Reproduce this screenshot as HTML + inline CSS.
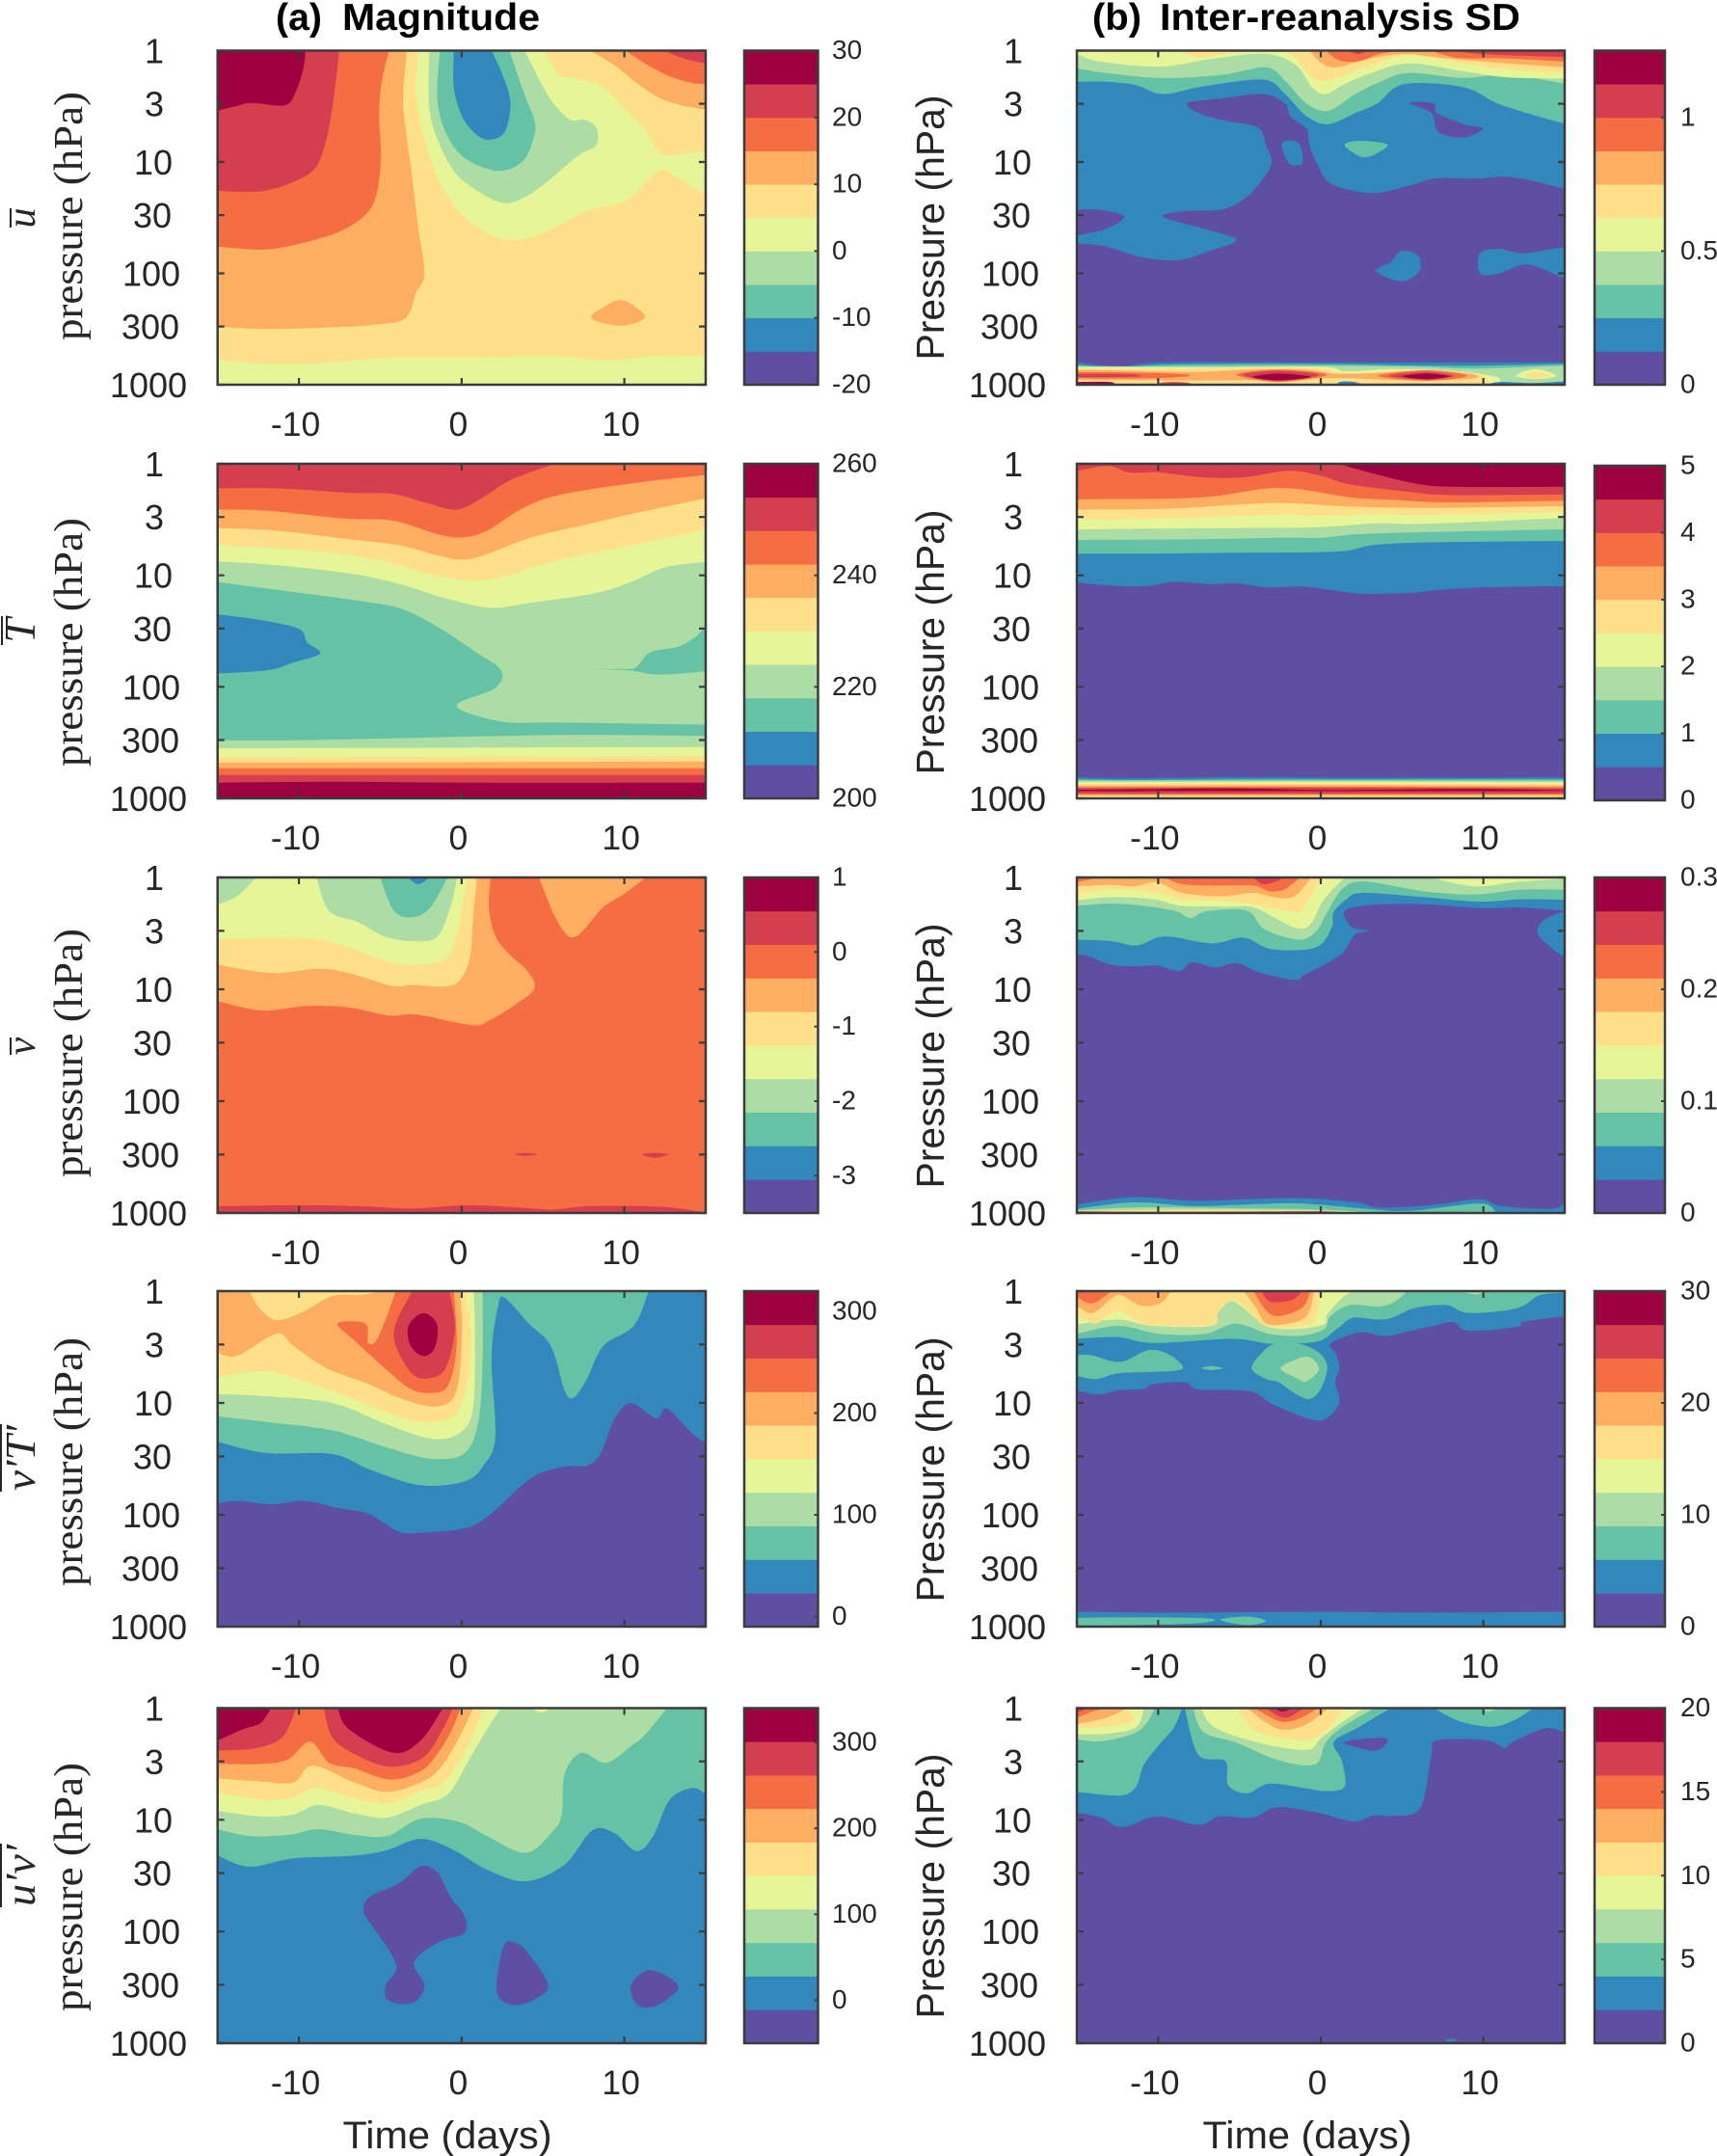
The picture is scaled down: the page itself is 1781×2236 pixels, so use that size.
<!DOCTYPE html>
<html lang="en">
<head>
<meta charset="utf-8">
<title>Zonal-mean composites: magnitude and inter-reanalysis SD</title>
<style>
html,body{margin:0;padding:0;background:#fff;}
svg{display:block;}
text{fill:#262626;font-family:"Liberation Sans",sans-serif;}
.serif{font-family:"Liberation Serif",serif;}
</style>
</head>
<body>
<svg id="figure" xmlns="http://www.w3.org/2000/svg" width="1781" height="2236" viewBox="0 0 1781 2236">
<rect x="0" y="0" width="1781" height="2236" fill="#ffffff"/>
<text x="286" y="31" font-size="39" font-weight="bold" textLength="48" lengthAdjust="spacingAndGlyphs" style="fill:#000">(a)</text>
<text x="355" y="31" font-size="39" font-weight="bold" textLength="205" lengthAdjust="spacingAndGlyphs" style="fill:#000">Magnitude</text>
<text x="1133" y="31" font-size="39" font-weight="bold" textLength="51" lengthAdjust="spacingAndGlyphs" style="fill:#000">(b)</text>
<text x="1203" y="31" font-size="39" font-weight="bold" textLength="374" lengthAdjust="spacingAndGlyphs" style="fill:#000">Inter-reanalysis SD</text>

<g transform="translate(36,226) rotate(-90)"><text class="serif" text-anchor="middle" font-size="42" font-style="italic">u</text><line x1="-10" x2="10" y1="-25" y2="-25" stroke="#262626" stroke-width="2"/></g>
<g transform="translate(36,654) rotate(-90)"><text class="serif" text-anchor="middle" font-size="46" font-style="italic">T</text><line x1="-15" x2="15" y1="-34" y2="-34" stroke="#262626" stroke-width="2"/></g>
<g transform="translate(36,1085) rotate(-90)"><text class="serif" text-anchor="middle" font-size="42" font-style="italic">v</text><line x1="-9" x2="9" y1="-25" y2="-25" stroke="#262626" stroke-width="2"/></g>
<g transform="translate(36,1512) rotate(-90)"><text class="serif" text-anchor="middle" font-size="44" font-style="italic" textLength="68" lengthAdjust="spacingAndGlyphs">v′T′</text><line x1="-35" x2="35" y1="-35" y2="-35" stroke="#262626" stroke-width="2"/></g>
<g transform="translate(36,1945) rotate(-90)"><text class="serif" text-anchor="middle" font-size="44" font-style="italic" textLength="64" lengthAdjust="spacingAndGlyphs">u′v′</text><line x1="-33" x2="33" y1="-35" y2="-35" stroke="#262626" stroke-width="2"/></g>

<text class="serif" transform="translate(85,224) rotate(-90)" text-anchor="middle" font-size="42" textLength="258" lengthAdjust="spacingAndGlyphs">pressure (hPa)</text>
<text class="serif" transform="translate(85,666) rotate(-90)" text-anchor="middle" font-size="42" textLength="258" lengthAdjust="spacingAndGlyphs">pressure (hPa)</text>
<text class="serif" transform="translate(85,1092) rotate(-90)" text-anchor="middle" font-size="42" textLength="258" lengthAdjust="spacingAndGlyphs">pressure (hPa)</text>
<text class="serif" transform="translate(85,1516) rotate(-90)" text-anchor="middle" font-size="42" textLength="258" lengthAdjust="spacingAndGlyphs">pressure (hPa)</text>
<text class="serif" transform="translate(85,1957) rotate(-90)" text-anchor="middle" font-size="42" textLength="258" lengthAdjust="spacingAndGlyphs">pressure (hPa)</text>

<text transform="translate(979,236) rotate(-90)" text-anchor="middle" font-size="41" textLength="275" lengthAdjust="spacingAndGlyphs">Pressure (hPa)</text>
<text transform="translate(979,666) rotate(-90)" text-anchor="middle" font-size="41" textLength="275" lengthAdjust="spacingAndGlyphs">Pressure (hPa)</text>
<text transform="translate(979,1095) rotate(-90)" text-anchor="middle" font-size="41" textLength="275" lengthAdjust="spacingAndGlyphs">Pressure (hPa)</text>
<text transform="translate(979,1524) rotate(-90)" text-anchor="middle" font-size="41" textLength="275" lengthAdjust="spacingAndGlyphs">Pressure (hPa)</text>
<text transform="translate(979,1956) rotate(-90)" text-anchor="middle" font-size="41" textLength="275" lengthAdjust="spacingAndGlyphs">Pressure (hPa)</text>

<text x="464" y="2228" text-anchor="middle" font-size="40" textLength="217" lengthAdjust="spacingAndGlyphs">Time (days)</text>
<text x="1356" y="2228" text-anchor="middle" font-size="40" textLength="217" lengthAdjust="spacingAndGlyphs">Time (days)</text>
</svg>

<script>
// Shared axis values
const timeTicks=[-10,0,10];
const timeRange=[-15,15];
const pressureTicks=[1,3,10,30,100,300,1000];
const logPressureRange=[0,3];
const bandColors=['#5e4fa2','#3288bd','#66c2a5','#abdda4','#e6f598','#fee08b','#fdae61','#f46d43','#d53e4f','#9e0142'];

// Colour-bar limits and ticks (data units)
const uBarLimits=[-20,30];
const uBarTicks=[30,20,10,0,-10,-20];
const tBarLimits=[200,260];
const tBarTicks=[260,240,220,200];
const vBarLimits=[-3.5,1];
const vBarTicks=[1,0,-1,-2,-3];
const heatLimits=[-10,320];
const heatTicks=[300,200,100,0];
const momentumLimits=[-50,340];
const momentumTicks=[300,200,100,0];
const uSdLimits=[0,1.25];
const uSdTicks=[1,0.5,0];
const tSdLimits=[0,5];
const tSdTicks=[5,4,3,2,1,0];
const vSdLimits=[0,0.3];
const vSdTicks=[0.3,0.2,0.1,0];
const heatSdLimits=[0,30];
const heatSdTicks=[30,20,10,0];
const momentumSdLimits=[0,20];
const momentumSdTicks=[20,15,10,5,0];

// Filled contour regions: [colour band, closure, [[day, log10 hPa], ...]]
const uBarContours=[
[4,'br-bl',[[-15,2.78],[-12.4,2.81],[-9,2.81],[-4.6,2.76],[-1.2,2.76],[5.6,2.75],[9,2.78],[12.4,2.74],[15,2.755]]],
[6,'tl',[[-15,2.48],[-12.04,2.5],[-7.96,2.485],[-5.24,2.46],[-3.44,2.4],[-2.79,2.17],[-2.28,2],[-2.69,1.57],[-3.03,1.14],[-3.44,.705],[-3.6,.42],[-3.37,0]]],
[7,'tl',[[-15,1.76],[-12.04,1.785],[-9.32,1.71],[-7.28,1.61],[-5.75,1.45],[-5.17,1.25],[-4.97,.94],[-5.07,.56],[-4.9,.27],[-4.46,0]]],
[8,'tl',[[-15,1.26],[-12.38,1.264],[-10.34,1.18],[-8.98,1.05],[-8.3,.79],[-7.86,.42],[-7.52,0]]],
[9,'tl',[[-15,.54],[-13.9,.5],[-12.9,.47],[-10.85,.49],[-10.17,.36],[-9.73,.16],[-9.59,0]]],
[4,'z',[[-2.69,0],[-2.79,.42],[-2.18,.85],[-1.33,1.19],[-.14,1.45],[1.56,1.64],[3.1,1.7],[4.63,1.66],[6.33,1.54],[7.69,1.44],[10.07,1.35],[11.26,1.19],[12.28,1.07],[13.3,1.14],[15,1.27],[15.7,1.1],[15,.92],[12.79,.94],[12.11,.91],[11.26,.71],[10.07,.53],[8.71,.33],[7,.245],[5.99,.22],[5.03,0]]],
[3,'z',[[-2,0],[-2,.5],[-1.5,.79],[-.48,1.08],[.88,1.25],[2.59,1.37],[3.95,1.31],[5.31,1.17],[7.18,.94],[8.27,.85],[8.27,.69],[7.52,.62],[6.67,.62],[5.65,.475],[4.8,.27],[3.88,0]]],
[2,'z',[[-1.33,0],[-1.5,.42],[-.99,.73],[.2,.965],[2.24,1.08],[3.78,.99],[4.46,.76],[4.46,.62],[3.78,.36],[2.93,0]]],
[1,'z',[[-.48,0],[-.48,.33],[.03,.59],[.88,.75],[1.73,.8],[2.65,.73],[3,.475],[2.59,.245],[1.84,0]]],
[6,'tr',[[7.86,0],[9.39,.13],[10.75,.29],[12.11,.42],[13.47,.49],[15,.53]]],
[7,'tr',[[10.07,0],[11.43,.13],[12.79,.23],[14.15,.29],[15,.3]]],
[8,'tr',[[12.45,0],[13.64,.07],[15,.115]]],
[6,'loop',[[7.96,2.4],[8.88,2.29],[9.73,2.24],[10.58,2.29],[11.26,2.4],[9.73,2.47]]]
];

const tBarContours=[
[3,'tr-tl',[[-15,1.06],[-12.4,1.11],[-9.3,1.17],[-6.26,1.23],[-3.7,1.3],[-1.33,1.475],[.88,1.69],[2.41,1.85],[2.07,2.01],[-.31,2.17],[2.41,2.31],[5.65,2.32],[10.75,2.33],[15,2.34]]],
[2,'loop',[[6.67,1.84],[10.07,1.84],[10.75,1.82],[11.6,1.69],[13.3,1.64],[14.32,1.56],[15.2,1.475],[15.85,1.835],[15,1.86],[12.1,1.89],[10.07,1.85]]],
[1,'z',[[-15,1.35],[-12.4,1.4],[-10,1.48],[-9.5,1.6],[-8.7,1.7],[-10.3,1.78],[-11.9,1.85],[-15,1.88]]],
[4,'tr-tl',[[-15,.875],[-11.36,.91],[-6.6,.99],[-3.54,1.09],[-1.16,1.2],[1.73,1.29],[4.29,1.245],[8.2,1.16],[10.41,1.06],[12.45,.93],[15,.88]]],
[5,'tr-tl',[[-15,.73],[-11.36,.76],[-7.28,.81],[-4.56,.885],[-1.84,.99],[.71,1.05],[2.93,1],[5.31,.885],[9.05,.77],[12.45,.67],[15,.59]]],
[6,'tr-tl',[[-15,.575],[-11.36,.6],[-7.28,.67],[-3.88,.73],[-1.5,.82],[.03,.86],[1.56,.81],[4.29,.66],[7.35,.555],[10.75,.44],[15,.31]]],
[7,'tr-tl',[[-15,.41],[-12,.42],[-7.28,.49],[-4.22,.51],[-1.5,.63],[.03,.66],[1.56,.6],[3.61,.41],[5.99,.28],[10.75,.17],[15,.1]]],
[8,'tl',[[-15,.22],[-11.36,.22],[-6.94,.26],[-4.22,.27],[-2.18,.35],[-.31,.41],[1.22,.31],[2.93,.15],[5.31,.02],[5.5,0]]],
[3,'br-bl',[[-15,2.48],[-11,2.48],[-3.7,2.46],[.88,2.445],[7.35,2.43],[15,2.44]]],
[4,'br-bl',[[-15,2.55],[15,2.54]]],
[5,'br-bl',[[-15,2.63],[15,2.62]]],
[6,'br-bl',[[-15,2.68],[15,2.67]]],
[7,'br-bl',[[-15,2.73],[15,2.73]]],
[8,'br-bl',[[-15,2.79],[15,2.79]]],
[9,'br-bl',[[-15,2.86],[-8,2.85],[.5,2.86],[15,2.86]]]
];

const vBarContours=[
[6,'tl',[[-15,1.105],[-12.3,1.19],[-9.57,1.15],[-7.02,1.16],[-4.48,1.235],[-2.78,1.225],[.62,1.32],[1.68,1.28],[3.37,1.13],[4.48,.99],[4,.83],[2.95,.69],[2.1,.53],[1.68,.28],[1.78,0]]],
[6,'z',[[4.75,0],[5.7,.34],[6.45,.51],[6.98,.53],[7.6,.455],[8.67,.27],[9.95,.15],[11.33,0]]],
[5,'tl',[[-15,.78],[-11.69,.854],[-8.72,.816],[-6.81,.86],[-4.26,.97],[-2.99,.96],[-1.08,.975],[-.13,.92],[.51,.715],[.72,.34],[.95,0]]],
[4,'tl',[[-15,.55],[-11.9,.54],[-8.93,.55],[-6.6,.64],[-4.05,.77],[-1.72,.765],[-.76,.686],[-.13,.4],[.36,0]]],
[3,'tl',[[-15,.245],[-13.8,.167],[-12.64,0]]],
[3,'z',[[-8.93,0],[-8.14,.3],[-6.38,.4],[-4.69,.53],[-2.99,.57],[-1.5,.53],[-.66,.25],[-.28,0]]],
[2,'z',[[-5,0],[-4.16,.3],[-2.99,.355],[-1.93,.27],[-.87,0]]],
[1,'z',[[-3.31,0],[-2.67,.06],[-1.97,0]]],
[8,'loop',[[3.27,2.475],[3.9,2.465],[4.64,2.475],[3.9,2.49]]],
[8,'loop',[[11.11,2.475],[11.86,2.463],[12.7,2.475],[11.86,2.506]]],
[8,'bl',[[-15,2.94],[-10,2.93],[-6,2.94],[-3,2.96],[.6,2.93],[4.86,2.965],[5.8,2.97],[7.8,2.94],[11.6,2.94],[13.66,2.965],[15,3]]]
];

const heatContours=[
[1,'tr-tl',[[-15,1.9],[-13.74,1.875],[-11.7,1.906],[-9.66,1.875],[-7.62,1.94],[-5.75,1.99],[-3.88,2.15],[-2.52,2.16],[.2,2.12],[1.73,2],[4.29,1.67],[6.33,1.57],[7.69,1.56],[8.54,1.45],[9.39,1.145],[10.41,1],[11.94,1.135],[12.62,1.05],[14.15,1.27],[15,1.357]]],
[2,'tl',[[-15,1.346],[-12.04,1.447],[-7.96,1.457],[-5.58,1.6],[-2.52,1.735],[.2,1.7],[1.39,1.55],[2.07,1.3],[1.84,.59],[2.24,.136],[2.65,.06],[4.12,.29],[5.48,.49],[6.33,.89],[6.9,.95],[7.69,.79],[8.71,.49],[10.58,.31],[11.5,0]]],
[3,'tl',[[-15,1.12],[-12.04,1.17],[-7.96,1.245],[-4.56,1.4],[-1.84,1.5],[.2,1.447],[1.05,1.145],[1.29,.59],[1.29,0]]],
[4,'tl',[[-15,.92],[-12.04,.94],[-7.96,1],[-4.56,1.195],[-1.84,1.32],[-.14,1.27],[.71,1.04],[.82,.34],[.75,0]]],
[5,'tl',[[-15,.77],[-12.04,.716],[-8.98,.84],[-6.6,.97],[-3.88,1.12],[-1.84,1.17],[-.31,1.09],[.37,.79],[.54,.34],[.2,0]]],
[6,'tl',[[-15,.555],[-13.74,.575],[-11.36,.38],[-10.34,.49],[-8.3,.69],[-5.92,.82],[-3.54,.97],[-1.5,1.03],[-.31,.89],[.03,.34],[-.14,0]]],
[5,'z',[[-13.06,0],[-12.38,.16],[-11.36,.26],[-9.83,.19],[-7.96,.045],[-6.26,.035],[-4.9,0]]],
[7,'z',[[-4.05,0],[-4.56,.21],[-5.24,.44],[-5.75,.46],[-5.92,.29],[-7.62,.29],[-6.6,.44],[-4.9,.666],[-3.2,.87],[-1.84,.91],[-.82,.84],[-.31,.49],[-.48,0]]],
[8,'z',[[-3.03,0],[-4.05,.29],[-4.05,.49],[-3.03,.74],[-2,.78],[-.99,.69],[-.41,.34],[-.75,0]]],
[9,'loop',[[-2.35,.197],[-1.5,.3],[-1.67,.51],[-2.35,.58],[-3.13,.49],[-3.27,.31]]]
];

const momentumContours=[
[0,'loop',[[-6.02,1.825],[-5.65,1.69],[-3.88,1.57],[-2.52,1.417],[-1.5,1.47],[-.65,1.7],[.14,1.85],[.2,2.01],[-1.16,2.08],[-2.35,2.18],[-2.93,2.3],[-2.28,2.48],[-2.69,2.61],[-3.54,2.65],[-4.56,2.61],[-4.66,2.48],[-4.05,2.355],[-4.22,2.23],[-5.24,2]]],
[0,'loop',[[2.59,2.13],[3.27,2.1],[4.12,2.2],[5.31,2.48],[4.46,2.61],[3.27,2.66],[2.41,2.61],[2.14,2.47]]],
[0,'loop',[[10.41,2.48],[11.6,2.345],[13.3,2.48],[12.62,2.61],[11.6,2.68],[10.75,2.65]]],
[2,'tr-tl',[[-15,1.32],[-13.06,1.42],[-10.34,1.346],[-6.6,1.32],[-4.56,1.27],[-2.52,1.17],[-.48,1.27],[1.56,1.447],[3.95,1.55],[6.33,1.4],[8.03,1.094],[9.39,1.12],[10.75,1.28],[11.77,1.145],[12.79,.82],[14.15,.716],[15,.767]]],
[3,'tl',[[-15,1.084],[-13.06,1.145],[-10.68,1.135],[-8.81,1.084],[-6.6,1.135],[-4.56,1.145],[-2.52,.99],[-.14,1.02],[1.56,1.145],[3.95,1.296],[5.65,1.094],[6.16,.943],[6.33,.59],[7.35,.4],[8.88,.49],[10.41,.34],[11.26,.24],[12.62,0]]],
[4,'tl',[[-15,.92],[-12.38,.97],[-10.34,.953],[-8.81,.867],[-6.6,.943],[-4.56,.98],[-2.52,.867],[-.82,.767],[.54,.44],[1.56,.187],[2.41,0]]],
[4,'z',[[4.29,0],[4.9,.04],[5.48,0]]],
[5,'tl',[[-15,.756],[-12.38,.817],[-10.34,.8],[-8.98,.716],[-6.6,.807],[-4.56,.852],[-2.52,.74],[-1.16,.666],[.2,.39],[1.39,0]]],
[6,'tl',[[-15,.63],[-12.38,.656],[-10.34,.666],[-9.15,.514],[-6.6,.666],[-4.56,.75],[-2.52,.666],[-1.33,.54],[-.14,.26],[.71,0]]],
[7,'tl',[[-15,.5],[-12.38,.5],[-10.68,.46],[-9.32,.3],[-8.13,.49],[-6.6,.54],[-4.39,.64],[-2.52,.565],[-1.5,.41],[-.65,.21],[-.07,0]]],
[8,'tl',[[-15,.38],[-12.72,.36],[-11.02,.26],[-10.17,0]]],
[8,'z',[[-8.47,0],[-7.96,.26],[-6.6,.41],[-4.39,.525],[-2.35,.44],[-1.16,.187],[-.54,0]]],
[9,'tl',[[-15,.29],[-13.4,.187],[-12.38,.136],[-11.7,0]]],
[9,'z',[[-7.62,0],[-6.94,.187],[-4.22,.4],[-2.52,.29],[-1.16,0]]]
];

const uSdContours=[
[1,'tr-tl',[[-15,1.73],[-13.2,1.76],[-10.87,1.86],[-8.7,1.88],[-6.87,1.8],[-5.2,1.7],[-7.2,1.6],[-9.7,1.49],[-8.2,1.44],[-6.03,1.425],[-4.53,1.31],[-3.37,1.11],[-3.03,.99],[-3.37,.85],[-3.87,.69],[-5.87,.63],[-7.53,.56],[-8.2,.47],[-6.2,.43],[-3.53,.39],[-2.2,.475],[-1.87,.59],[-.87,.705],[-.7,.85],[-.2,1.02],[.63,1.195],[3.13,1.28],[5.47,1.21],[7.13,1.146],[9.47,1.15],[11.8,1.137],[15,1.24]]],
[1,'loop',[[-2.37,.83],[-1.37,.83],[-1.1,1],[-1.53,1.03],[-2.03,1]]],
[0,'z',[[-15,1.43],[-13.53,1.43],[-12.1,1.49],[-13.2,1.6],[-15,1.66]]],
[0,'loop',[[5.47,.47],[6.97,.475],[7.13,.56],[8.8,.66],[9.97,.7],[8.8,.78],[7.47,.75],[7.07,.69],[6.8,.56]]],
[1,'loop',[[3.4,1.98],[4.3,1.9],[4.97,1.8],[5.97,1.84],[6.07,1.98],[4.97,2.07]]],
[1,'loop',[[9.8,1.82],[10.97,1.78],[12.47,1.82],[15.5,1.78],[15.5,2.05],[13.63,1.96],[12.47,1.92],[10.97,2],[9.8,2]]],
[2,'tr-tl',[[-15,.28],[-13.2,.28],[-11.37,.31],[-9.7,.39],[-7.2,.32],[-3.53,.26],[-2.2,.39],[-.87,.59],[.47,.66],[2.13,.56],[3.47,.475],[5.13,.3],[8.8,.33],[11.13,.49],[15,.656]]],
[2,'loop',[[1.47,.85],[2.3,.81],[4.07,.84],[3.47,.92],[2.53,.956]]],
[3,'tr-tl',[[-15,.16],[-13.2,.2],[-9.87,.245],[-6.2,.22],[-3.37,.15],[-2.2,.27],[-.87,.475],[.47,.54],[2.13,.39],[3.8,.27],[5.47,.2],[8.8,.245],[11.47,.216],[15,.297]]],
[4,'tr-tl',[[-15,.03],[-13.53,.1],[-9.87,.144],[-6.53,.07],[-3.37,.03],[-1.53,.13],[-.53,.33],[.3,.39],[1.47,.3],[3.13,.2],[5.47,.115],[8.8,.187],[11.47,.24],[15,.25]]],
[5,'z',[[-8.87,0],[-7.2,.066],[-5.2,0]]],
[5,'tr',[[-2.2,0],[-1.53,.07],[-.53,.245],[.3,.27],[1.47,.216],[3.13,.13],[5.47,.043],[8.8,.115],[11.47,.17],[15,.2]]],
[6,'tr',[[-.7,0],[.07,.115],[.97,.15],[2.8,.08],[5.13,.03],[7.47,.066],[11.47,.115],[15,.15]]],
[7,'z',[[.3,0],[1.13,.086],[2.3,.095],[3.63,.03],[4.97,0]]],
[7,'tr',[[6.8,0],[8.47,.066],[11.47,.07],[15,.1]]],
[8,'z',[[1.63,0],[2.3,.03],[2.97,0]]],
[8,'tr',[[8.47,0],[9.8,.03],[15,.058]]],
[1,'br-bl',[[-15,2.8],[-12.5,2.835],[-9.5,2.8],[0,2.8],[10,2.8],[15,2.8]]],
[2,'br-bl',[[-15,2.82],[-12.5,2.85],[-9.5,2.82],[0,2.815],[8.3,2.83],[15,2.815]]],
[3,'br-bl',[[-15,2.835],[-9.5,2.835],[0,2.83],[6.3,2.84],[9.3,2.855],[15,2.83]]],
[4,'bl',[[-15,2.84],[-7,2.845],[0,2.84],[1.6,2.88],[4.4,2.86],[8.3,2.88],[10.8,2.93],[11,3]]],
[5,'bl',[[-15,2.855],[-7,2.855],[-3,2.845],[0,2.855],[1.2,2.89],[3,2.89],[5,2.87],[8,2.875],[10,2.92],[10.4,3]]],
[6,'loop',[[-15.5,2.87],[-8,2.885],[-4.5,2.865],[-1,2.865],[.8,2.9],[2.6,2.9],[4.5,2.885],[7,2.875],[9.5,2.91],[9,2.95],[5,2.96],[1,2.94],[-5,2.96],[-15.5,2.95]]],
[7,'loop',[[-15.5,2.89],[-10,2.895],[-8,2.915],[-10,2.94],[-15.5,2.94]]],
[7,'loop',[[-5.2,2.91],[-2.6,2.865],[.4,2.91],[-2.6,2.975]]],
[8,'loop',[[-4.8,2.91],[-2.6,2.875],[-.1,2.91],[-2.6,2.965]]],
[9,'loop',[[-4.2,2.93],[-2.6,2.9],[-.6,2.93],[-2.6,2.96]]],
[7,'loop',[[3.5,2.92],[6.5,2.87],[9,2.92],[6.5,2.965]]],
[8,'loop',[[4.2,2.92],[6.5,2.885],[8.2,2.92],[6.5,2.955]]],
[9,'loop',[[5,2.925],[6.5,2.9],[7.9,2.925],[6.5,2.95]]],
[8,'loop',[[-15.5,2.905],[-12,2.905],[-11,2.92],[-12,2.93],[-15.5,2.93]]],
[9,'bl',[[-15,2.975],[-13,2.975],[-12.6,3]]],
[8,'loop',[[-10,2.99],[-9,2.975],[-8,2.99],[-9,3.02]]],
[4,'loop',[[12,2.92],[13.2,2.86],[14.5,2.92],[13.2,2.95]]],
[5,'loop',[[12.6,2.92],[13.3,2.885],[14.1,2.92],[13.3,2.94]]],
[1,'br',[[10.2,3],[11,2.975],[13,2.985],[15,2.97]]],
[1,'loop',[[1,2.985],[1.5,2.97],[2.4,2.985],[1.5,2.995]]]
];

const tSdContours=[
[1,'tr-tl',[[-15,1.066],[-12.46,1.095],[-10.68,1.095],[-8.9,1.058],[-6.92,1.078],[-5.14,1.072],[-3.36,1.107],[-1.19,1.1],[.59,1.13],[2.57,1.164],[5.34,1.158],[7.32,1.13],[10.29,1.107],[15,1.095]]],
[2,'tr-tl',[[-15,.807],[-9.5,.804],[-5.54,.798],[.99,.787],[3.36,.726],[7.32,.703],[15,.692]]],
[3,'tr-tl',[[-15,.683],[-7.52,.677],[-2.77,.663],[0,.663],[3.36,.625],[15,.588]]],
[4,'tr-tl',[[-15,.588],[-5.54,.576],[0,.568],[3.36,.533],[6.33,.539],[15,.487]]],
[5,'tr-tl',[[-15,.496],[-9.5,.49],[-2.77,.458],[.4,.467],[3.36,.452],[6.33,.461],[15,.43]]],
[6,'tr-tl',[[-15,.41],[-9.5,.403],[-2.97,.352],[1.38,.38],[6.33,.395],[15,.38]]],
[7,'tr-tl',[[-15,.317],[-7.52,.303],[-2.57,.216],[1.78,.3],[4.35,.323],[7.91,.346],[15,.331]]],
[8,'tr-tl',[[-15,.063],[-13.06,.02],[-11.77,.078],[-9.9,.078],[-7.32,.121],[-4.75,.121],[-1.98,.063],[0,.107],[1.78,.184],[5.34,.25],[7.91,.28],[15,.274]]],
[9,'tr',[[1.09,0],[3.36,.092],[5.93,.179],[8.31,.207],[15,.207]]],
[1,'br-bl',[[-15,2.81],[-12,2.82],[-5,2.81],[5,2.815],[15,2.81]]],
[2,'br-bl',[[-15,2.83],[-12,2.835],[-5,2.83],[5,2.83],[15,2.83]]],
[3,'br-bl',[[-15,2.84],[15,2.84]]],
[4,'br-bl',[[-15,2.855],[0,2.85],[15,2.855]]],
[5,'br-bl',[[-15,2.87],[0,2.865],[15,2.87]]],
[6,'br-bl',[[-15,2.885],[0,2.88],[15,2.885]]],
[7,'br-bl',[[-15,2.9],[0,2.895],[15,2.9]]],
[8,'br-bl',[[-15,2.908],[0,2.905],[15,2.91]]],
[9,'loop',[[-15.5,2.925],[-12,2.92],[-7,2.91],[-3,2.915],[0,2.925],[5,2.92],[10,2.915],[15.5,2.93],[10,2.935],[5,2.935],[0,2.935],[-7,2.935],[-15.5,2.935]]],
[8,'br-bl',[[-15,2.94],[15,2.94]]],
[7,'br-bl',[[-15,2.955],[15,2.955]]],
[6,'br-bl',[[-15,2.965],[15,2.965]]],
[5,'br-bl',[[-15,2.975],[15,2.975]]],
[4,'br-bl',[[-15,2.985],[15,2.985]]]
];

const vSdContours=[
[1,'tr-tl',[[-15,.686],[-14.24,.706],[-12.96,.778],[-11.28,.795],[-10.09,.787],[-8.7,.836],[-7.91,.758],[-6.53,.804],[-5.14,.767],[-3.76,.85],[-1.58,.916],[-.99,.867],[1.19,.695],[2.08,.513],[2.97,.478],[2.27,.464],[1.78,.427],[1.48,.297],[3.17,.245],[6.33,.24],[9.89,.274],[12.26,.268],[15,.297]]],
[1,'loop',[[15.6,.33],[14.05,.354],[13.31,.478],[14.05,.614],[15,.709],[15.6,.72]]],
[2,'tr-tl',[[-15,.556],[-12.86,.57],[-11.28,.608],[-9.59,.527],[-6.73,.59],[-4.75,.539],[-3.17,.637],[-1.19,.648],[0,.6],[.69,.44],[.79,.311],[1.58,.196],[2.57,.138],[6.33,.176],[9.69,.216],[12.26,.196],[15,.2]]],
[3,'tr-tl',[[-15,.254],[-12.86,.233],[-10.88,.254],[-8.9,.303],[-8.01,.363],[-7.02,.303],[-4.55,.297],[-3.46,.464],[-1.38,.556],[-.3,.484],[.4,.311],[1.38,.095],[2.77,.037],[6.33,.124],[9.5,.153],[12.26,.11],[15,.11]]],
[4,'tl',[[-15,.205],[-12.86,.176],[-10.29,.196],[-8.51,.254],[-6.13,.262],[-4.15,.268],[-2.57,.383],[-1.35,.458],[-.59,.412],[.2,.196],[1.48,0]]],
[4,'tr',[[6.73,0],[9.5,.08],[12.26,.037],[15,.014]]],
[5,'tl',[[-15,.147],[-12.86,.11],[-10.29,.13],[-8.51,.196],[-6.13,.21],[-4.15,.24],[-2.57,.282],[-1.29,.305],[-.69,.18],[.1,0]]],
[6,'tl',[[-15,.08],[-12.86,.066],[-11.47,.08],[-10.09,.043],[-8.51,.138],[-6.13,.167],[-4.15,.138],[-2.77,.18],[-1.78,.18],[-1.09,.095],[-.59,0]]],
[7,'tl',[[-15,.043],[-13.65,0]]],
[7,'z',[[-9.59,0],[-8.51,.06],[-6.53,.072],[-4.15,.072],[-3.17,.124],[-2.27,.11],[-1.58,.037],[-1.29,0]]],
[8,'z',[[-4.15,0],[-3.56,.06],[-2.77,.037],[-2.27,0]]],
[1,'br-bl',[[-15,2.924],[-11.5,2.858],[-7.87,2.891],[-4.53,2.877],[-1.2,2.867],[2.13,2.905],[3.8,2.953],[7.13,2.924],[9.8,2.877],[11.13,2.938],[14.3,2.962],[15,2.891]]],
[2,'bl',[[-15,2.962],[-11.5,2.905],[-7.87,2.938],[-4.53,2.924],[-1.2,2.915],[2.8,2.962],[5.47,2.981],[9.8,2.915],[10.8,3]]],
[3,'bl',[[-15,2.975],[-11,2.95],[-4,2.96],[0,2.97],[4,3]]],
[5,'bl',[[-15,2.98],[-8,2.97],[0,2.98],[5,2.995],[10,2.99],[12,3]]],
[8,'bl',[[-15,2.985],[-9,2.99],[0,2.985],[1,3]]]
];

const heatSdContours=[
[1,'tr-tl',[[-15,.888],[-13.65,.925],[-12.46,.888],[-10.88,.873],[-10.29,.83],[-8.31,.816],[-7.52,.879],[-4.35,.896],[-2.97,1.01],[-.59,1.147],[.4,1.133],[1.15,.988],[.89,.816],[1.15,.686],[.89,.556],[.59,.47],[1.98,.383],[2.77,.369],[3.96,.403],[5.54,.354],[6.92,.311],[8.11,.277],[9.1,.354],[12.07,.32],[12.46,.274],[15,.225]]],
[2,'loop',[[-15.5,.6],[-14.24,.57],[-12.36,.634],[-10.58,.527],[-9.3,.57],[-8.51,.695],[-10.49,.723],[-12.46,.735],[-13.95,.787],[-15.5,.72]]],
[2,'loop',[[-4.25,.689],[-3.56,.542],[-2.77,.47],[-1.38,.47],[-.2,.542],[.4,.671],[0,.873],[-.69,.965],[-1.58,.916],[-2.57,.816],[-3.36,.787]]],
[2,'loop',[[-7.32,.689],[-6.73,.671],[-6.03,.689],[-6.73,.706]]],
[3,'loop',[[-2.47,.692],[-1.58,.614],[-.69,.591],[-.1,.695],[-.89,.807],[-1.58,.772]]],
[2,'tr-tl',[[-15,.427],[-12.46,.412],[-10.29,.464],[-5.54,.427],[-3.17,.47],[-1.58,.47],[0,.441],[.99,.34],[1.98,.239],[3.36,.254],[4.35,.239],[5.74,.153],[7.71,.124],[9.1,.196],[12.07,.153],[13.45,.037],[15,.014]]],
[3,'tl',[[-15,.383],[-12.46,.311],[-9.89,.383],[-7.12,.383],[-5.24,.291],[-3.17,.383],[-1.19,.398],[.2,.34],[.59,.225],[1.78,.124],[3.56,.138],[4.55,.095],[5.34,0]]],
[3,'z',[[8.7,0],[9.5,.03],[10.29,0]]],
[4,'tl',[[-15,.297],[-12.46,.254],[-10.29,.311],[-6.73,.311],[-6.33,.196],[-5.54,.089],[-4.75,.153],[-3.36,.311],[-1.58,.34],[.2,.297],[.4,.21],[1.38,.052],[2.08,0]]],
[5,'tl',[[-15,.21],[-13.85,.291],[-12.46,.176],[-10.68,.297],[-6.73,.303],[-6.33,.196],[-5.54,.08],[-4.75,.138],[-3.46,.303],[-1.58,.32],[-.4,.268],[0,0]]],
[6,'tl',[[-15,.13],[-14.04,.196],[-12.86,.066],[-12.26,.037],[-11.08,.13],[-9.89,.11],[-9.2,0]]],
[6,'z',[[-4.75,0],[-3.96,.153],[-3.17,.3],[-.99,.239],[-.4,0]]],
[7,'tl',[[-15,.052],[-14.04,.11],[-12.86,0]]],
[7,'z',[[-4.15,0],[-2.97,.216],[-1.19,.153],[-.63,0]]],
[8,'z',[[-3.66,0],[-3.07,.095],[-1.78,.08],[-1.15,0]]],
[1,'br-bl',[[-15,2.867],[-9,2.875],[0,2.867],[6,2.875],[15,2.867]]],
[2,'loop',[[-15.5,2.924],[-7.2,2.924],[-7.87,2.972],[-15.5,2.986]]],
[2,'loop',[[-6.2,2.938],[-4.53,2.91],[-3.37,2.948],[-4.53,2.986]]]
];

const momentumSdContours=[
[1,'tr-tl',[[-15,.936],[-13.53,.98],[-12.2,1.065],[-10.03,.97],[-7.53,1.045],[-6.2,.97],[-4.2,.98],[-2.7,.887],[-.2,.936],[1.97,1.014],[3.3,.96],[4.47,.965],[6.13,.893],[6.8,.418],[7.13,.288],[10.13,.288],[11.3,.354],[11.8,.302],[13.8,.181],[15,.216]]],
[0,'loop',[[1.4,.308],[2.3,.28],[3.97,.268],[3.97,.331],[3.3,.383],[2.13,.346]]],
[1,'loop',[[7.63,2.972],[8,2.96],[8.47,2.972],[8,2.985]]],
[2,'tl',[[-15,.749],[-12.37,.783],[-11.37,.705],[-10.87,.504],[-9.87,.317],[-9.03,.173],[-8.53,0]]],
[2,'z',[[-8.37,0],[-7.53,.418],[-5.87,.475],[-5.7,.69],[-4.53,.763],[-3.2,.677],[-1.2,.711],[.3,.743],[1.47,.7],[1.3,.475],[.8,.302],[2.3,.173],[4.3,0]]],
[2,'z',[[6.97,0],[8.47,.115],[10.47,.167],[11.8,.115],[13.07,0]]],
[3,'tl',[[-15,.28],[-13.53,.297],[-11.53,.23],[-10.7,.13],[-10.2,0]]],
[3,'z',[[-7.87,0],[-7.2,.216],[-5.2,.308],[-2.53,.47],[-.37,.504],[.3,.308],[1.3,.173],[3.3,0]]],
[3,'z',[[9.8,0],[10.3,.03],[10.97,0]]],
[4,'tl',[[-15,.236],[-13.2,.23],[-11.37,.173],[-10.87,0]]],
[4,'z',[[-7.37,0],[-6.53,.173],[-3.87,.308],[-.87,.374],[-.03,.274],[1.13,.144],[2.63,0]]],
[5,'tl',[[-15,.173],[-13.53,.173],[-11.53,.115],[-11.87,0]]],
[5,'z',[[-5.2,0],[-4.03,.2],[-2.2,.274],[-.2,.26],[1.47,0]]],
[6,'tl',[[-15,.144],[-13.2,.086],[-11.87,0]]],
[6,'z',[[-4.53,0],[-3.2,.144],[-2.2,.193],[-.87,.144],[.47,0]]],
[7,'tl',[[-15,.086],[-14.03,.03],[-13.2,0]]],
[7,'z',[[-4.03,0],[-3.03,.086],[-2.2,.124],[-1.2,.086],[-.2,0]]],
[8,'tl',[[-15,.043],[-14.37,0]]],
[8,'z',[[-3.37,0],[-2.2,.086],[-1.03,0]]],
[9,'z',[[-2.87,0],[-2.37,.03],[-1.7,0]]]
];

// Panel registry
const panels=[
{key:'u-bar',col:0,row:0,bg:5,layers:uBarContours,lim:uBarLimits,ticks:uBarTicks},
{key:'t-bar',col:0,row:1,bg:2,layers:tBarContours,lim:tBarLimits,ticks:tBarTicks},
{key:'v-bar',col:0,row:2,bg:7,layers:vBarContours,lim:vBarLimits,ticks:vBarTicks},
{key:'heat-flux',col:0,row:3,bg:0,layers:heatContours,lim:heatLimits,ticks:heatTicks},
{key:'momentum-flux',col:0,row:4,bg:1,layers:momentumContours,lim:momentumLimits,ticks:momentumTicks},
{key:'u-bar-sd',col:1,row:0,bg:0,layers:uSdContours,lim:uSdLimits,ticks:uSdTicks},
{key:'t-bar-sd',col:1,row:1,bg:0,layers:tSdContours,lim:tSdLimits,ticks:tSdTicks,barShift:2},
{key:'v-bar-sd',col:1,row:2,bg:0,layers:vSdContours,lim:vSdLimits,ticks:vSdTicks},
{key:'heat-flux-sd',col:1,row:3,bg:0,layers:heatSdContours,lim:heatSdLimits,ticks:heatSdTicks},
{key:'momentum-flux-sd',col:1,row:4,bg:0,layers:momentumSdContours,lim:momentumSdLimits,ticks:momentumSdTicks}
];

// Layout
const rowEdges=[[52.5,399],[481,828],[910,1258],[1339,1687],[1771.5,2119]];
const colEdges=[[225.7,732],[1117,1623]];
const barEdges=[[772,848.5],[1654,1727]];
const yLabelCenter=[157,1048];
const barLabelX=[863,1743];
const inkColor='#3c3c3c';
const NS='http://www.w3.org/2000/svg';
const figure=document.getElementById('figure');

function svgEl(tag,attrs){
  const node=document.createElementNS(NS,tag);
  for(const k in attrs){node.setAttribute(k,attrs[k]);}
  return node;
}
function smoothOpen(p){
  let d='M'+p[0][0].toFixed(1)+' '+p[0][1].toFixed(1);
  for(let i=0;i<p.length-1;i++){
    const a=p[Math.max(i-1,0)],b=p[i],c=p[i+1],e=p[Math.min(i+2,p.length-1)];
    const c1x=b[0]+(c[0]-a[0])/6,c1y=b[1]+(c[1]-a[1])/6;
    const c2x=c[0]-(e[0]-b[0])/6,c2y=c[1]-(e[1]-b[1])/6;
    d+='C'+c1x.toFixed(1)+' '+c1y.toFixed(1)+' '+c2x.toFixed(1)+' '+c2y.toFixed(1)+' '+c[0].toFixed(1)+' '+c[1].toFixed(1);
  }
  return d;
}
function smoothLoop(p){
  const n=p.length;
  let d='M'+p[0][0].toFixed(1)+' '+p[0][1].toFixed(1);
  for(let i=0;i<n;i++){
    const a=p[(i-1+n)%n],b=p[i],c=p[(i+1)%n],e=p[(i+2)%n];
    const c1x=b[0]+(c[0]-a[0])/6,c1y=b[1]+(c[1]-a[1])/6;
    const c2x=c[0]-(e[0]-b[0])/6,c2y=c[1]-(e[1]-b[1])/6;
    d+='C'+c1x.toFixed(1)+' '+c1y.toFixed(1)+' '+c2x.toFixed(1)+' '+c2y.toFixed(1)+' '+c[0].toFixed(1)+' '+c[1].toFixed(1);
  }
  return d+'Z';
}
function pressureLabelNudge(text){
  return text.length===4?-3:text==='300'?-1:text.length===3?0:text==='30'?1:text==='10'?2:3;
}

panels.forEach(function(panel,panelIndex){
  const left=colEdges[panel.col][0],right=colEdges[panel.col][1];
  const top=rowEdges[panel.row][0],bottom=rowEdges[panel.row][1];
  const xScale=function(day){return left+(day-timeRange[0])/(timeRange[1]-timeRange[0])*(right-left);};
  const yLog=function(lp){return top+(lp-logPressureRange[0])/(logPressureRange[1]-logPressureRange[0])*(bottom-top);};
  const yPressure=function(hPa){return yLog(Math.log10(hPa));};
  const corners={tl:[left-3,top-3],tr:[right+3,top-3],bl:[left-3,bottom+3],br:[right+3,bottom+3]};

  const group=svgEl('g',{});
  
  
  figure.appendChild(group);

  const clip=svgEl('clipPath',{id:'clip-'+panelIndex});
  clip.appendChild(svgEl('rect',{x:left,y:top,width:right-left,height:bottom-top}));
  group.appendChild(clip);

  const plot=svgEl('g',{'clip-path':'url(#clip-'+panelIndex+')'});
  
  
  group.appendChild(plot);

  const base=svgEl('rect',{x:left,y:top,width:right-left,height:bottom-top,fill:bandColors[panel.bg]});
  
  
  plot.appendChild(base);

  panel.layers.forEach(function(layer){
    const pts=layer[2].map(function(q){return [xScale(q[0]),yLog(q[1])];});
    let d;
    if(layer[1]==='loop'){
      d=smoothLoop(pts);
    }else{
      d=smoothOpen(pts);
      if(layer[1]!=='z'){
        layer[1].split('-').forEach(function(c){d+='L'+corners[c][0]+' '+corners[c][1];});
      }
      d+='Z';
    }
    const region=svgEl('path',{d:d,fill:bandColors[layer[0]]});
    
    
    plot.appendChild(region);
  });

  const frame=svgEl('rect',{x:left,y:top,width:right-left,height:bottom-top,fill:'none',stroke:inkColor,'stroke-width':2.5});
  
  
  group.appendChild(frame);

  timeTicks.forEach(function(day){
    const x=xScale(day);
    const tickLines=svgEl('path',{d:'M'+x+' '+bottom+'v-7M'+x+' '+top+'v7',stroke:inkColor,'stroke-width':2.2,fill:'none'});
    
    
    group.appendChild(tickLines);
    const label=svgEl('text',{x:x-3.5,y:bottom+53,'text-anchor':'middle','font-size':35.5});
    label.textContent=String(day);
    
    
    group.appendChild(label);
  });

  pressureTicks.forEach(function(hPa){
    const y=yPressure(hPa);
    const tickLines=svgEl('path',{d:'M'+left+' '+y+'h7M'+right+' '+y+'h-7',stroke:inkColor,'stroke-width':2.2,fill:'none'});
    
    
    group.appendChild(tickLines);
    const label=svgEl('text',{x:yLabelCenter[panel.col]+pressureLabelNudge(String(hPa)),y:y+13,'text-anchor':'middle','font-size':36});
    label.textContent=String(hPa);
    
    
    group.appendChild(label);
  });

  // Colour bar
  const shift=panel.barShift||0;
  const bl=barEdges[panel.col][0],br=barEdges[panel.col][1];
  const barTop=top+shift,barBottom=bottom+shift;
  const barY=function(v){return barBottom-(v-panel.lim[0])/(panel.lim[1]-panel.lim[0])*(barBottom-barTop);};
  const bar=svgEl('g',{});
  
  
  group.appendChild(bar);
  const step=(panel.lim[1]-panel.lim[0])/bandColors.length;
  bandColors.forEach(function(color,i){
    const y1=barY(panel.lim[0]+(i+1)*step),y0=barY(panel.lim[0]+i*step);
    const swatch=svgEl('rect',{x:bl,y:y1,width:br-bl,height:y0-y1+.4,fill:color});
    
    
    bar.appendChild(swatch);
  });
  const barFrame=svgEl('rect',{x:bl,y:barTop,width:br-bl,height:barBottom-barTop,fill:'none',stroke:inkColor,'stroke-width':2.5});
  
  
  bar.appendChild(barFrame);
  panel.ticks.forEach(function(v){
    const y=barY(v);
    const tick=svgEl('line',{x1:br,x2:br-4,y1:y,y2:y,stroke:inkColor,'stroke-width':2});
    
    
    bar.appendChild(tick);
    const label=svgEl('text',{x:barLabelX[panel.col],y:y+8.5,'font-size':28});
    label.textContent=String(v);
    
    
    bar.appendChild(label);
  });
});
</script>
</body>
</html>
